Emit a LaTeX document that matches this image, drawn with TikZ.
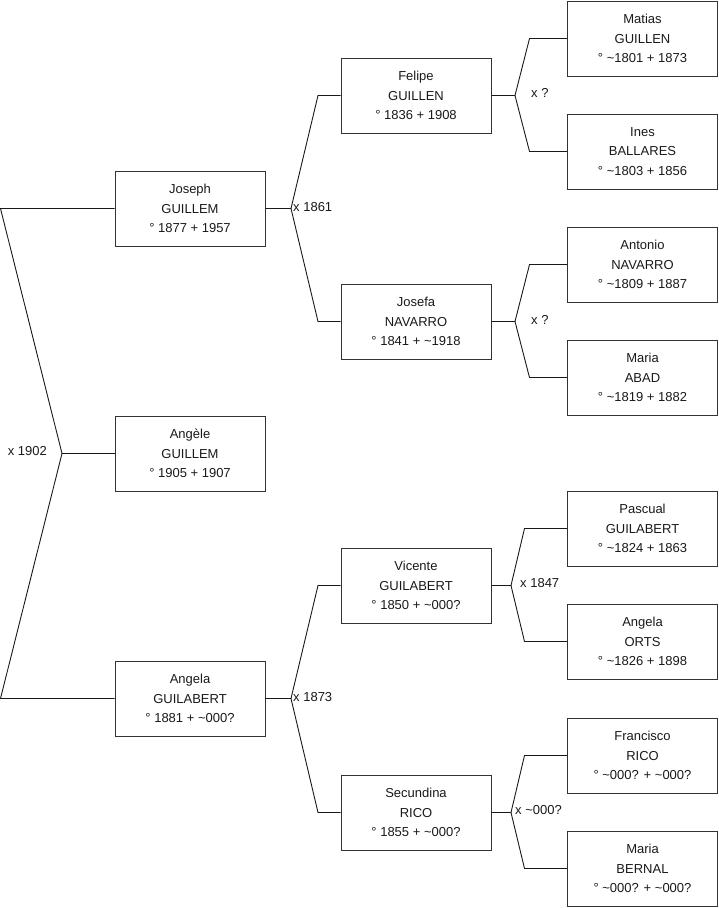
\documentclass[tikz,border=0pt]{standalone}
\usepackage{fontspec}
\setmainfont{Liberation Sans}
\begin{document}
\begin{tikzpicture}[x=1pt,y=-1pt,
  person/.style={draw=black!80,line width=0.9pt,minimum width=150pt,minimum height=75pt,
    align=center,font=\fontsize{13}{19.5}\selectfont,inner sep=0pt,text=black!90},
  mar/.style={font=\fontsize{13}{15}\selectfont,inner sep=0pt,text=black!90},
  link/.style={line width=0.9pt,black!90}]
\useasboundingbox (0,0) rectangle (719,908);
% column 1
\node[person] (joseph) at (190,208.5) {Joseph\\GUILLEM\\° 1877 + 1957};
\node[person] (angele) at (190,453.5) {Angèle\\GUILLEM\\° 1905 + 1907};
\node[person] (angela) at (190,698.5) {Angela\\GUILABERT\\° 1881 + \textasciitilde000?};
% column 2
\node[person] (felipe) at (416,95.5) {Felipe\\GUILLEN\\° 1836 + 1908};
\node[person] (josefa) at (416,321.5) {Josefa\\NAVARRO\\° 1841 + \textasciitilde1918};
\node[person] (vicente) at (416,585.5) {Vicente\\GUILABERT\\° 1850 + \textasciitilde000?};
\node[person] (secundina) at (416,812.5) {Secundina\\RICO\\° 1855 + \textasciitilde000?};
% column 3
\node[person] (matias) at (642.5,38.5) {Matias\\GUILLEN\\° \textasciitilde1801 + 1873};
\node[person] (ines) at (642.5,151.5) {Ines\\BALLARES\\° \textasciitilde1803 + 1856};
\node[person] (antonio) at (642.5,264.5) {Antonio\\NAVARRO\\° \textasciitilde1809 + 1887};
\node[person] (maria) at (642.5,377.5) {Maria\\ABAD\\° \textasciitilde1819 + 1882};
\node[person] (pascual) at (642.5,528.5) {Pascual\\GUILABERT\\° \textasciitilde1824 + 1863};
\node[person] (angelao) at (642.5,641.5) {Angela\\ORTS\\° \textasciitilde1826 + 1898};
\node[person] (francisco) at (642.5,755.5) {Francisco\\RICO\\° \textasciitilde000? + \textasciitilde000?};
\node[person] (mariab) at (642.5,868.5) {Maria\\BERNAL\\° \textasciitilde000? + \textasciitilde000?};
% level 0 junction
\coordinate (t0) at (0.5,208.5);
\coordinate (b0) at (0.5,698.5);
\coordinate (j0) at (62,453.5);
\draw[link] (joseph.west) -- (t0) -- (j0) -- (b0) -- (angela.west);
\draw[link] (j0) -- (angele.west);
\node[mar,anchor=east] (m0) at (47,451.5) {x 1902};
% level 1 junctions
\coordinate (j1a) at (291,208.5);
\draw[link] (joseph.east) -- (j1a) -- (318,95.5) -- (felipe.west);
\draw[link] (j1a) -- (318,321.5) -- (josefa.west);
\node[mar,anchor=west] (m1a) at (293,207.5) {x 1861};
\coordinate (j1b) at (291,698.5);
\draw[link] (angela.east) -- (j1b) -- (318,585.5) -- (vicente.west);
\draw[link] (j1b) -- (318,812.5) -- (secundina.west);
\node[mar,anchor=west] (m1b) at (293,697.5) {x 1873};
% level 2 junctions
\coordinate (j2a) at (515,95.5);
\draw[link] (felipe.east) -- (j2a) -- (529.5,38.5) -- (matias.west);
\draw[link] (j2a) -- (529.5,151.5) -- (ines.west);
\node[mar,anchor=west] (m2a) at (531,93) {x ?};
\coordinate (j2b) at (515,321.5);
\draw[link] (josefa.east) -- (j2b) -- (529.5,264.5) -- (antonio.west);
\draw[link] (j2b) -- (529.5,377.5) -- (maria.west);
\node[mar,anchor=west] (m2b) at (531,319.5) {x ?};
\coordinate (j2c) at (511,585.5);
\draw[link] (vicente.east) -- (j2c) -- (524.5,528.5) -- (pascual.west);
\draw[link] (j2c) -- (524.5,641.5) -- (angelao.west);
\node[mar,anchor=west] (m2c) at (520,583.5) {x 1847};
\coordinate (j2d) at (511,812.5);
\draw[link] (secundina.east) -- (j2d) -- (524.5,755.5) -- (francisco.west);
\draw[link] (j2d) -- (524.5,868.5) -- (mariab.west);
\node[mar,anchor=west] (m2d) at (515,810.5) {x \textasciitilde000?};
\end{tikzpicture}
\end{document}
